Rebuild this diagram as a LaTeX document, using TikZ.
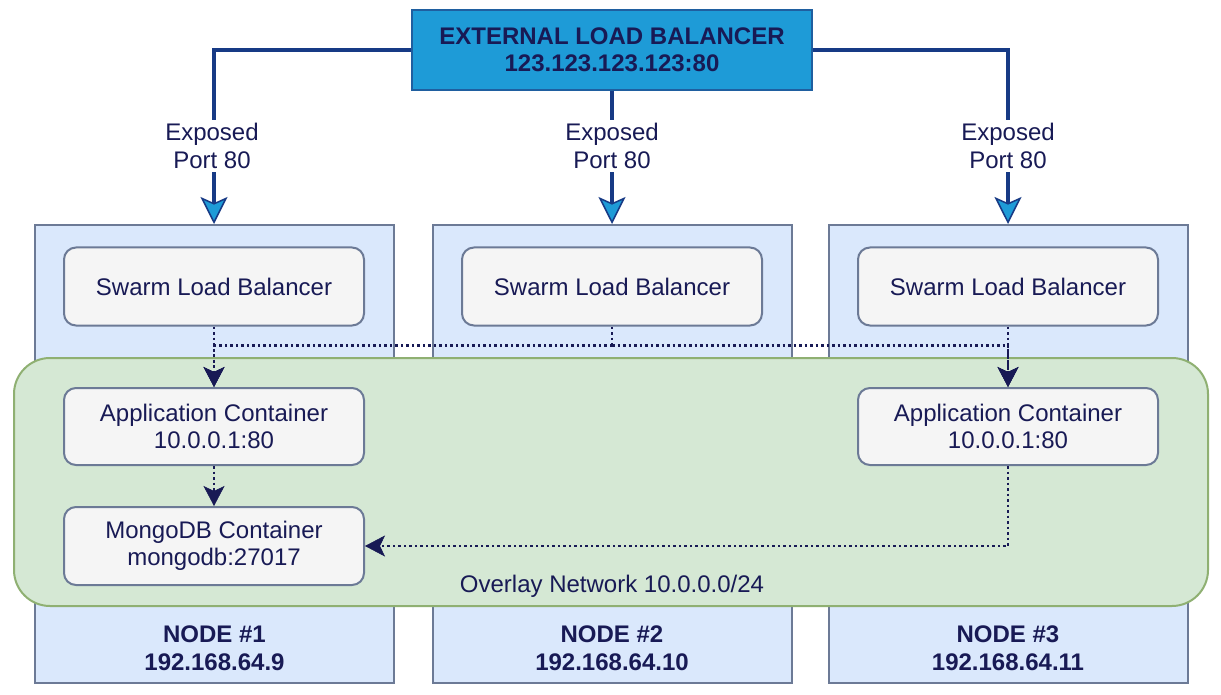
\documentclass[tikz,border=0pt]{standalone}
\usepackage{fontspec}
\setmainfont{Liberation Sans}
\usetikzlibrary{arrows.meta,calc}
\definecolor{navy}{HTML}{181A55}
\definecolor{lbfill}{HTML}{1E9BD7}
\definecolor{lbdraw}{HTML}{1F5FA0}
\definecolor{nodefill}{HTML}{DAE8FC}
\definecolor{nodedraw}{HTML}{6C7A96}
\definecolor{boxfill}{HTML}{F5F5F5}
\definecolor{ovfill}{HTML}{D5E8D4}
\definecolor{ovdraw}{HTML}{8FB072}
\definecolor{linkblue}{HTML}{173A85}
\begin{document}
\begin{tikzpicture}[x=1pt,y=-1pt,
  txt/.style={text=navy,font=\fontsize{24}{27.5}\selectfont,align=center,inner sep=0pt},
  btxt/.style={txt,font=\fontsize{24}{27.5}\selectfont\bfseries},
  hostbox/.style={draw=nodedraw,line width=2pt,fill=nodefill,minimum width=359pt,minimum height=458pt,inner sep=0pt},
  svcbox/.style={draw=nodedraw,line width=2pt,fill=boxfill,rounded corners=12pt,minimum width=300pt,minimum height=78pt,txt},
  extlink/.style={draw=linkblue,line width=3.2pt,-{Stealth[length=27pt,width=27pt,inset=6pt,fill=lbfill,line width=1.5pt]}},
  dotlink/.style={draw=navy,line width=2.5pt,dash pattern=on 2.5pt off 3pt,-{Stealth[length=20pt,width=21pt,inset=5pt,fill=navy,line width=0.5pt]}},
  dotline/.style={draw=navy,line width=2.5pt,dash pattern=on 2.5pt off 3pt},
  portlbl/.style={txt,fill=white,inner sep=3pt}]
\useasboundingbox (0,0) rectangle (1221,695);
\fill[white] (0,0) rectangle (1221,695);

% host boxes
\node[hostbox] (nb1) at (214.5,454) {};
\node[hostbox] (nb2) at (612,454) {};
\node[hostbox] (nb3) at (1008,454) {};

% overlay network
\node[draw=ovdraw,line width=2pt,fill=ovfill,rounded corners=36pt,minimum width=1194pt,minimum height=248pt,inner sep=0pt] (ov) at (611,482) {};
\node[txt] (ovl) at (612,586) {Overlay Network 10.0.0.0/24};

% host labels
\node[btxt] (h1) at (214.5,648) {NODE \#1\\192.168.64.9};
\node[btxt] (h2) at (612,648) {NODE \#2\\192.168.64.10};
\node[btxt] (h3) at (1008,648) {NODE \#3\\192.168.64.11};

% swarm load balancers
\node[svcbox] (sw1) at (214,286.5) {Swarm Load Balancer};
\node[svcbox] (sw2) at (612,286.5) {Swarm Load Balancer};
\node[svcbox] (sw3) at (1008,286.5) {Swarm Load Balancer};

% containers
\node[svcbox,minimum height=77pt] (app1) at (214,426.5) {Application Container\\10.0.0.1:80};
\node[svcbox,minimum height=77pt] (app3) at (1008,426.5) {Application Container\\10.0.0.1:80};
\node[svcbox] (mongo) at (214,546) {MongoDB Container\\mongodb:27017};

% external load balancer
\node[draw=lbdraw,line width=1.5pt,fill=lbfill,minimum width=400pt,minimum height=80pt,btxt] (lb) at (612,50) {EXTERNAL LOAD BALANCER\\123.123.123.123:80};

% external links
\draw[extlink] (lb.west) -| (sw1.center |- nb1.north);
\draw[extlink] (lb.south) -- (nb2.north);
\draw[extlink] (lb.east) -| (sw3.center |- nb3.north);
\node[portlbl] (p1) at (212,146) {Exposed\\Port 80};
\node[portlbl] (p2) at (612,146) {Exposed\\Port 80};
\node[portlbl] (p3) at (1008,146) {Exposed\\Port 80};

% internal links
\coordinate (j2) at ($(sw2.south)+(0,19)$);
\draw[dotline] (sw2.south) -- (j2);
\draw[dotlink] (j2) -| (app1.north);
\draw[dotlink] (j2) -| (app3.north);
\draw[dotlink] (sw1.south) -- (app1.north);
\draw[dotlink] (sw3.south) -- (app3.north);
\draw[dotlink] (app1.south) -- (mongo.north);
\draw[dotlink] (app3.south) |- (mongo.east);
\end{tikzpicture}
\end{document}
